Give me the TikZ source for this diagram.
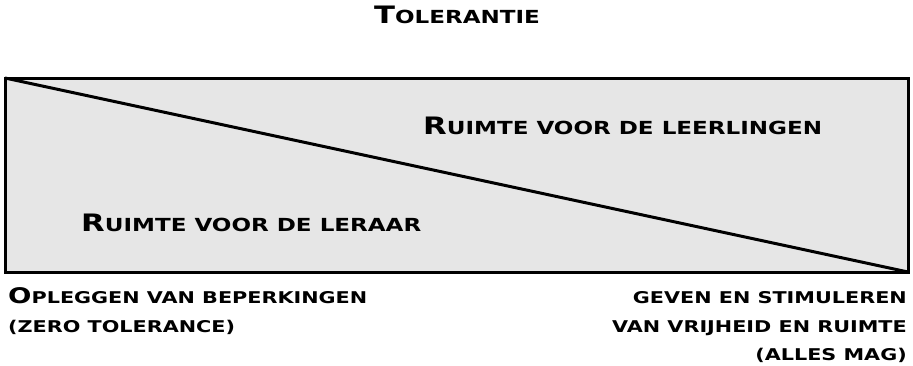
\documentclass[tikz,border=0pt]{standalone}
\usepackage{fontspec}
\setmainfont{DejaVu Sans}[FakeStretch=1.28]
\usepackage{tikz}
\usetikzlibrary{positioning}
\definecolor{licht_grijs}{HTML}{E6E6E6}

% kleine hoofdletters
\def\klmaat{17}
\newcommand{\kl}[1]{{\fontsize{\klmaat}{\klmaat}\selectfont\MakeUppercase{#1}}}

\begin{document}
\begin{tikzpicture}[x=1pt,y=-1pt,
    tekst/.style={inner sep=0pt,font=\def\klmaat{18}\bfseries\fontsize{24}{24}\selectfont},
    onder/.style={inner sep=0pt,font=\def\klmaat{16.2}\bfseries\fontsize{21.5}{21.5}\selectfont}]

    \useasboundingbox (0,0) rectangle (913,365);

    % Hoeken van het vlak
    \coordinate (LB) at (5,78);
    \coordinate (RO) at (908,272);

    \node[tekst,anchor=base] (titel) at (457,23) {T\kl{olerantie}};

    \draw[line width=3pt,fill=licht_grijs] (LB) rectangle (RO);
    \draw[line width=3pt] (LB) -- (RO);

    \node[tekst,anchor=base west] (leerlingen) at (423,134) {R\kl{uimte voor de leerlingen}};
    \node[tekst,anchor=base west] (leraar) at (81,231) {R\kl{uimte voor de leraar}};

    % Onder links
    \node[onder,anchor=base west] (links1) at (8,303) {O\kl{pleggen van beperkingen}};
    \node[onder,anchor=base west] (links2) at (8,332) {\kl{(zero tolerance)}};

    % Onder rechts
    \node[onder,anchor=base east] (rechts1) at (907,303) {\kl{geven en stimuleren}};
    \node[onder,anchor=base east] (rechts2) at (907,332) {\kl{van vrijheid en ruimte}};
    \node[onder,anchor=base east] (rechts3) at (907,360) {\kl{(alles mag)}};
\end{tikzpicture}
\end{document}
